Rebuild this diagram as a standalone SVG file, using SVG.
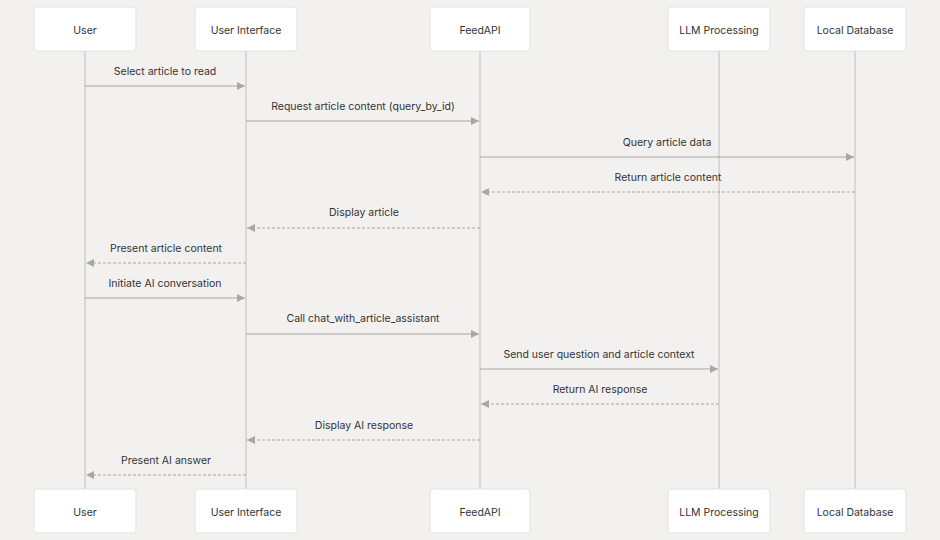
<svg xmlns="http://www.w3.org/2000/svg" width="940" height="540" viewBox="0 0 940 540">
<defs>
<style>
.bg{fill:#f2f1f0}
.box{fill:#ffffff;stroke:#e3e2e0;stroke-width:1}
.life{stroke:#d0cfcd;stroke-width:1.5}
.lbl{font-family:Inter,"Liberation Sans",sans-serif;font-size:10.5px;fill:#333333;text-anchor:middle}
.msg{stroke:#a8a7a5;stroke-width:1;fill:none}
.ret{stroke:#a8a7a5;stroke-width:1;fill:none;stroke-dasharray:3,2}
</style>
<marker id="ah" viewBox="0 0 10 10" refX="10" refY="5" markerWidth="8" markerHeight="8" markerUnits="userSpaceOnUse" orient="auto">
<path d="M0,0 L10,5 L0,10 z" fill="#a8a7a5"/>
</marker>
</defs>
<rect class="bg" x="0" y="0" width="940" height="540"/>
<g id="lifelines">
<line class="life" x1="85" y1="51" x2="85" y2="489"/>
<line class="life" x1="246" y1="51" x2="246" y2="489"/>
<line class="life" x1="480" y1="51" x2="480" y2="489"/>
<line class="life" x1="719" y1="51" x2="719" y2="489"/>
<line class="life" x1="855" y1="51" x2="855" y2="489"/>
</g>
<g id="node-user">
<rect class="box" x="34" y="7" width="102" height="44" rx="3"/>
<text class="lbl" x="85" y="34">User</text>
<rect class="box" x="34" y="489" width="102" height="44" rx="3"/>
<text class="lbl" x="85" y="516">User</text>
</g>
<g id="node-ui">
<rect class="box" x="195" y="7" width="102" height="44" rx="3"/>
<text class="lbl" x="246" y="34">User Interface</text>
<rect class="box" x="195" y="489" width="102" height="44" rx="3"/>
<text class="lbl" x="246" y="516">User Interface</text>
</g>
<g id="node-feedapi">
<rect class="box" x="430" y="7" width="100" height="44" rx="3"/>
<text class="lbl" x="480" y="34">FeedAPI</text>
<rect class="box" x="430" y="489" width="100" height="44" rx="3"/>
<text class="lbl" x="480" y="516">FeedAPI</text>
</g>
<g id="node-llm">
<rect class="box" x="668" y="7" width="102" height="44" rx="3"/>
<text class="lbl" x="719" y="34">LLM Processing</text>
<rect class="box" x="668" y="489" width="102" height="44" rx="3"/>
<text class="lbl" x="719" y="516">LLM Processing</text>
</g>
<g id="node-db">
<rect class="box" x="804" y="7" width="102" height="44" rx="3"/>
<text class="lbl" x="855" y="34">Local Database</text>
<rect class="box" x="804" y="489" width="102" height="44" rx="3"/>
<text class="lbl" x="855" y="516">Local Database</text>
</g>
<g id="connectors">
<line class="msg" x1="85" y1="86" x2="245" y2="86" marker-end="url(#ah)"/>
<text class="lbl" x="165" y="75">Select article to read</text>
<line class="msg" x1="246" y1="121" x2="479" y2="121" marker-end="url(#ah)"/>
<text class="lbl" x="363" y="110">Request article content (query_by_id)</text>
<line class="msg" x1="480" y1="157" x2="854" y2="157" marker-end="url(#ah)"/>
<text class="lbl" x="667" y="146">Query article data</text>
<line class="ret" x1="855" y1="192" x2="481" y2="192" marker-end="url(#ah)"/>
<text class="lbl" x="668" y="181">Return article content</text>
<line class="ret" x1="480" y1="228" x2="247" y2="228" marker-end="url(#ah)"/>
<text class="lbl" x="364" y="216">Display article</text>
<line class="ret" x1="246" y1="263" x2="86" y2="263" marker-end="url(#ah)"/>
<text class="lbl" x="166" y="252">Present article content</text>
<line class="msg" x1="85" y1="298" x2="245" y2="298" marker-end="url(#ah)"/>
<text class="lbl" x="165" y="287">Initiate AI conversation</text>
<line class="msg" x1="246" y1="334" x2="479" y2="334" marker-end="url(#ah)"/>
<text class="lbl" x="363" y="322">Call chat_with_article_assistant</text>
<line class="msg" x1="480" y1="369" x2="718" y2="369" marker-end="url(#ah)"/>
<text class="lbl" x="599" y="358">Send user question and article context</text>
<line class="ret" x1="719" y1="404" x2="481" y2="404" marker-end="url(#ah)"/>
<text class="lbl" x="600" y="393">Return AI response</text>
<line class="ret" x1="480" y1="440" x2="247" y2="440" marker-end="url(#ah)"/>
<text class="lbl" x="364" y="429">Display AI response</text>
<line class="ret" x1="246" y1="475" x2="86" y2="475" marker-end="url(#ah)"/>
<text class="lbl" x="166" y="464">Present AI answer</text>
</g>
</svg>
